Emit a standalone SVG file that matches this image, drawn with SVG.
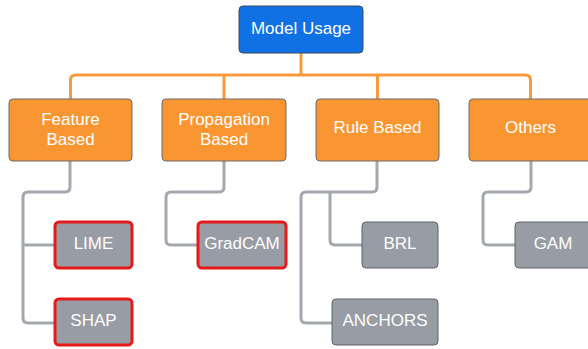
<svg xmlns="http://www.w3.org/2000/svg" width="588" height="349" viewBox="0 0 588 349">
  <style>
    text { font-family: "Liberation Sans", Arial, sans-serif; font-size: 17px; fill: #ffffff; text-anchor: middle; }
    .root rect { fill: #1071e5; stroke: #3a4a5c; stroke-width: 1; }
    .cat rect { fill: #f99632; stroke: #6b6b6b; stroke-width: 1; }
    .leaf rect { fill: #979ca5; stroke: #5f646b; stroke-width: 1; }
    .leaf.hl rect { stroke: #e31b1b; stroke-width: 3; }
    .orange { fill: none; stroke: #f79a3e; stroke-width: 3; }
    .gray { fill: none; stroke: #a3a8af; stroke-width: 3; }
  </style>

  <!-- connectors -->
  <g id="connectors">
    <path class="orange" d="M301 53 V75"/>
    <path class="orange" d="M70.5 99 V80 Q70.5 75 75.5 75 H525.5 Q530.5 75 530.5 80 V99"/>
    <path class="orange" d="M224 99 V75"/>
    <path class="orange" d="M377.5 99 V75"/>

    <path class="gray" d="M70 161 V187 Q70 192 65 192 H28 Q23 192 23 197 V318 Q23 323 28 323 H55"/>
    <path class="gray" d="M23 245 H55"/>
    <path class="gray" d="M224 161 V187 Q224 192 219 192 H171 Q166 192 166 197 V240 Q166 245 171 245 H198"/>
    <path class="gray" d="M377 161 V187 Q377 192 372 192 H306 Q301 192 301 197 V318 Q301 323 306 323 H332"/>
    <path class="gray" d="M330 192 V240 Q330 245 335 245 H362"/>
    <path class="gray" d="M531 161 V187 Q531 192 526 192 H488 Q483 192 483 197 V240 Q483 245 488 245 H515"/>
  </g>

  <g id="model-usage" class="root">
    <rect x="239" y="6" width="124" height="47" rx="4"/>
    <text x="301" y="34">Model Usage</text>
  </g>

  <g id="feature-based" class="cat">
    <rect x="9" y="99" width="123" height="62" rx="4"/>
    <text x="70.5" y="125">Feature</text>
    <text x="70.5" y="145">Based</text>
  </g>
  <g id="propagation-based" class="cat">
    <rect x="162" y="99" width="124" height="62" rx="4"/>
    <text x="224" y="125">Propagation</text>
    <text x="224" y="145">Based</text>
  </g>
  <g id="rule-based" class="cat">
    <rect x="316" y="99" width="123" height="62" rx="4"/>
    <text x="377.5" y="133">Rule Based</text>
  </g>
  <g id="others" class="cat">
    <rect x="469" y="99" width="123" height="62" rx="4"/>
    <text x="530.5" y="133">Others</text>
  </g>

  <g id="lime" class="leaf hl">
    <rect x="55" y="222" width="77" height="46" rx="4"/>
    <text x="93.5" y="249">LIME</text>
  </g>
  <g id="shap" class="leaf hl">
    <rect x="55" y="299" width="77" height="46" rx="4"/>
    <text x="93.5" y="326">SHAP</text>
  </g>
  <g id="gradcam" class="leaf hl">
    <rect x="198" y="222" width="88" height="46" rx="4"/>
    <text x="242" y="249">GradCAM</text>
  </g>
  <g id="brl" class="leaf">
    <rect x="362" y="222" width="76" height="46" rx="4"/>
    <text x="400" y="249">BRL</text>
  </g>
  <g id="anchors" class="leaf">
    <rect x="332" y="299" width="106" height="46" rx="4"/>
    <text x="385" y="326">ANCHORS</text>
  </g>
  <g id="gam" class="leaf">
    <rect x="515" y="222" width="77" height="46" rx="4"/>
    <text x="553" y="249">GAM</text>
  </g>
</svg>
